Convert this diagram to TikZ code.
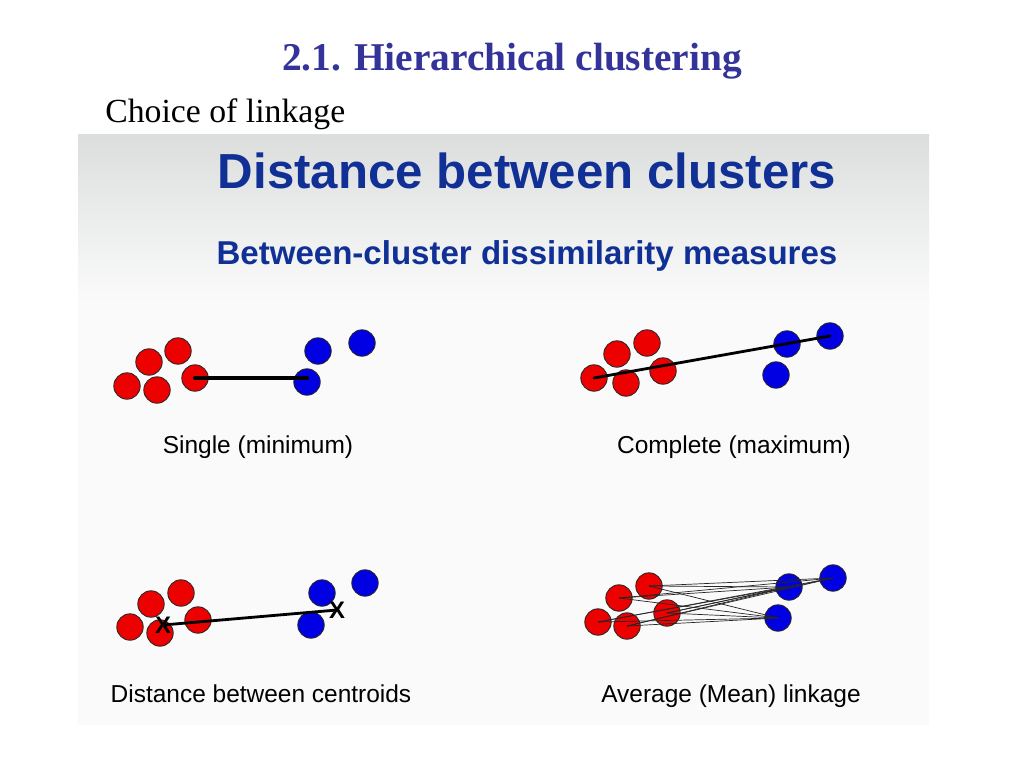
\documentclass[tikz,border=0pt]{standalone}
\usepackage{fontspec}
\setmainfont{Liberation Serif}
\newfontfamily\slidefont{Liberation Sans}
\usetikzlibrary{positioning}
\definecolor{titleblue}{RGB}{51, 51, 153}
\definecolor{slideblue}{RGB}{16, 48, 150}
\definecolor{dotred}{RGB}{236, 0, 0}
\definecolor{dotblue}{RGB}{0, 0, 226}
\definecolor{panelgray}{RGB}{220, 222, 222}
\definecolor{panelwhite}{RGB}{250, 250, 250}

\begin{document}
\begin{tikzpicture}[
    x=0.025cm, y=-0.025cm,
    redpt/.style={circle, draw=black!85, fill=dotred, line width=0.6pt, minimum size=0.66cm, inner sep=0pt},
    bluept/.style={circle, draw=black!85, fill=dotblue, line width=0.6pt, minimum size=0.66cm, inner sep=0pt},
    caption/.style={anchor=base, font=\slidefont\fontsize{17.4}{20}\selectfont},
    centroid/.style={font=\slidefont\bfseries\fontsize{17}{19}\selectfont, inner sep=0pt},
    thicklink/.style={line width=2.9pt, line cap=round},
    midlink/.style={line width=2pt, line cap=round},
    thinlink/.style={line width=0.5pt, black!85}
]
\useasboundingbox (0,0) rectangle (1024,768);
\fill[white] (0,0) rectangle (1024,768);
% slide panel
\fill[panelwhite] (78,135) rectangle (929,725);
\shade[top color=panelgray, bottom color=panelwhite] (78,135) rectangle (929,300);
% page heading
\node[anchor=base, text=titleblue, font=\bfseries\fontsize{28}{32}\selectfont] (title) at (512,71) {2.1. Hierarchical clustering};
\node[anchor=base west, font=\fontsize{24}{28}\selectfont, inner sep=0pt] (choice) at (105,123) {Choice of linkage};
\node[anchor=base, text=slideblue, font=\slidefont\bfseries\fontsize{35}{40}\selectfont] (head) at (527,189) {Distance between clusters};
\node[anchor=base, text=slideblue, font=\slidefont\bfseries\fontsize{23.5}{28}\selectfont] (sub) at (527,264) {Between-cluster dissimilarity measures};
% single
\foreach \n/\p in {1/{(127,386)}, 2/{(149,362)}, 3/{(178,351)}, 4/{(157,390)}, 5/{(195,378)}}
    \node[redpt] (sr\n) at \p {};
\foreach \n/\p in {1/{(318,351)}, 2/{(362,343)}, 3/{(307,382)}}
    \node[bluept] (sb\n) at \p {};
\draw[thicklink] (sr5.center) -- (sr5.center -| sb3.center);
\node[caption] (single) at (258,453) {Single (minimum)};
% complete
\foreach \n/\p in {1/{(594,378)}, 2/{(617,354)}, 3/{(647,343)}, 4/{(626,383)}, 5/{(663,371)}}
    \node[redpt] (cr\n) at \p {};
\foreach \n/\p in {1/{(787,344)}, 2/{(830,336)}, 3/{(776,375)}}
    \node[bluept] (cb\n) at \p {};
\draw[midlink] (cr1.center) -- (cb2.center);
\node[caption] (complete) at (734,453) {Complete (maximum)};
% centroids
\foreach \n/\p in {1/{(130,627)}, 2/{(151,604)}, 3/{(181,593)}, 4/{(160,633)}, 5/{(198,620)}}
    \node[redpt] (dr\n) at \p {};
\foreach \n/\p in {1/{(322,593)}, 2/{(365,583)}, 3/{(311,625)}}
    \node[bluept] (db\n) at \p {};
\node[centroid] (redc) at (163,625) {X};
\node[centroid] (bluec) at (337,610) {X};
\draw[midlink] (redc.center) -- (bluec.center);
\node[caption] (distc) at (261,702) {Distance between centroids};
% average
\foreach \n/\p in {1/{(598,622)}, 2/{(619,598)}, 3/{(649,586)}, 4/{(627,626)}, 5/{(667,613)}}
    \node[redpt] (ar\n) at \p {};
\foreach \n/\p in {1/{(789,587)}, 2/{(833,578)}, 3/{(778,618)}}
    \node[bluept] (ab\n) at \p {};
\foreach \i in {1,...,5}
    \foreach \j in {1,2,3}
        \draw[thinlink] (ar\i.center) -- (ab\j.center);
\node[caption] (average) at (731,702) {Average (Mean) linkage};
\end{tikzpicture}
\end{document}
